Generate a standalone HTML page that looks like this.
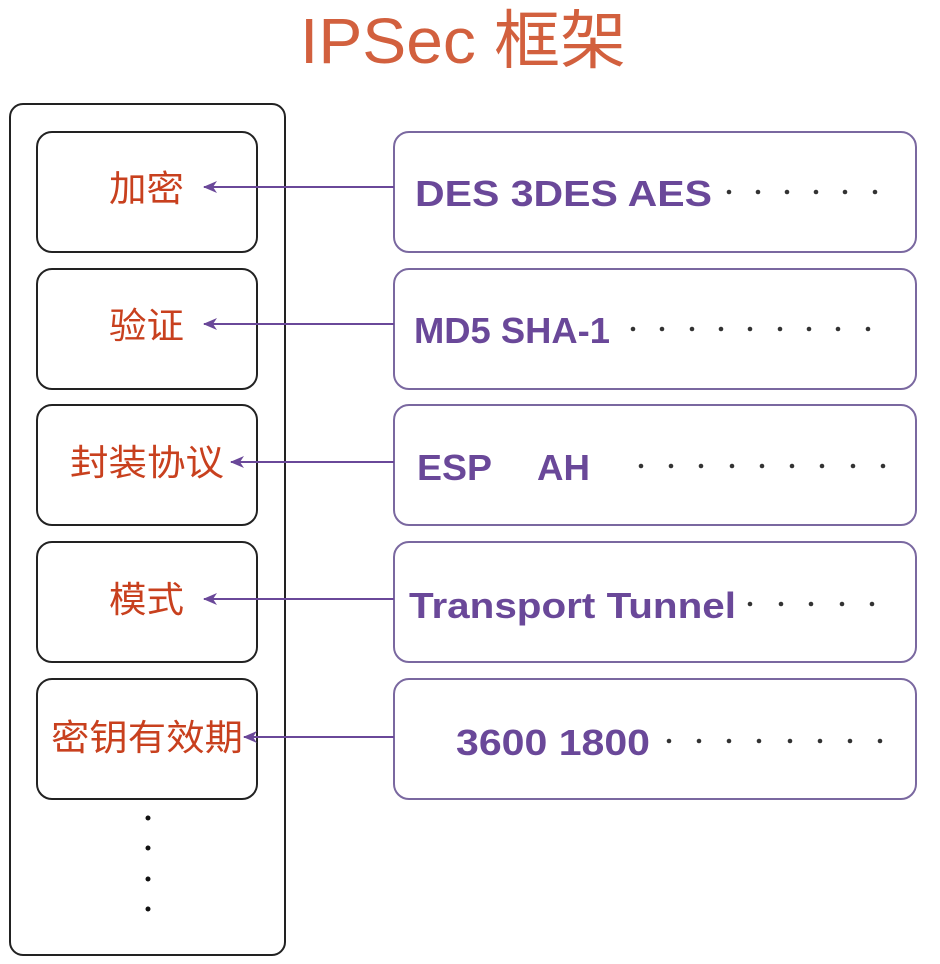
<!DOCTYPE html>
<html><head><meta charset="utf-8"><style>
html,body{margin:0;padding:0;background:#fff;}
svg{display:block;}
.cn{font-family:"Liberation Sans","Noto Sans CJK SC",sans-serif;font-size:36px;fill:#c8401e;}
.en{font-family:"Liberation Sans",sans-serif;font-weight:bold;font-size:36px;fill:#6a4899;}
</style></head><body>
<svg width="940" height="964" viewBox="0 0 940 964" xmlns="http://www.w3.org/2000/svg">
<defs><marker id="ah" markerWidth="14" markerHeight="12" refX="13" refY="6" orient="auto" markerUnits="userSpaceOnUse"><path d="M0,0 L14,6 L0,12 L4,6 Z" fill="#6a4899"/></marker></defs>
<text x="463" y="63" text-anchor="middle" font-family="Liberation Sans,Noto Sans CJK SC,sans-serif" font-size="64" fill="#d2603e" textLength="326" lengthAdjust="spacingAndGlyphs">IPSec 框架</text>
<rect x="10" y="104" width="275" height="851" rx="13" fill="none" stroke="#222" stroke-width="2"/>
<g fill="none" stroke="#222" stroke-width="2">
<rect x="37" y="132" width="220" height="120" rx="15"/>
<rect x="37" y="269" width="220" height="120" rx="15"/>
<rect x="37" y="405" width="220" height="120" rx="15"/>
<rect x="37" y="542" width="220" height="120" rx="15"/>
<rect x="37" y="679" width="220" height="120" rx="15"/>
</g>
<g fill="none" stroke="#7a68a0" stroke-width="2">
<rect x="394" y="132" width="522" height="120" rx="15"/>
<rect x="394" y="269" width="522" height="120" rx="15"/>
<rect x="394" y="405" width="522" height="120" rx="15"/>
<rect x="394" y="542" width="522" height="120" rx="15"/>
<rect x="394" y="679" width="522" height="120" rx="15"/>
</g>
<g stroke="#6a4899" stroke-width="2" marker-end="url(#ah)">
<line x1="394" y1="187" x2="204" y2="187"/>
<line x1="394" y1="324" x2="204" y2="324"/>
<line x1="394" y1="462" x2="231" y2="462"/>
<line x1="394" y1="599" x2="204" y2="599"/>
<line x1="394" y1="737" x2="244" y2="737"/>
</g>
<text class="cn" x="109" y="201" textLength="75" lengthAdjust="spacingAndGlyphs">加密</text>
<text class="cn" x="109" y="338" textLength="75" lengthAdjust="spacingAndGlyphs">验证</text>
<text class="cn" x="70" y="475" textLength="154" lengthAdjust="spacingAndGlyphs">封装协议</text>
<text class="cn" x="109" y="612" textLength="75" lengthAdjust="spacingAndGlyphs">模式</text>
<text class="cn" x="51" y="750" textLength="192" lengthAdjust="spacingAndGlyphs">密钥有效期</text>
<text class="en" x="415" y="206" textLength="297" lengthAdjust="spacingAndGlyphs">DES  3DES  AES</text>
<text class="en" x="414" y="343" textLength="196" lengthAdjust="spacingAndGlyphs">MD5 SHA-1</text>
<text class="en" x="417" y="480" textLength="75" lengthAdjust="spacingAndGlyphs">ESP</text>
<text class="en" x="537" y="480" textLength="53" lengthAdjust="spacingAndGlyphs">AH</text>
<text class="en" x="409" y="618" textLength="327" lengthAdjust="spacingAndGlyphs">Transport  Tunnel</text>
<text class="en" x="456" y="755" textLength="194" lengthAdjust="spacingAndGlyphs">3600  1800</text>
<g fill="#333">
<circle cx="729" cy="192" r="2.3"/><circle cx="758" cy="192" r="2.3"/><circle cx="787" cy="192" r="2.3"/><circle cx="816" cy="192" r="2.3"/><circle cx="845" cy="192" r="2.3"/><circle cx="875" cy="192" r="2.3"/>
<circle cx="633" cy="329" r="2.3"/><circle cx="662" cy="329" r="2.3"/><circle cx="692" cy="329" r="2.3"/><circle cx="721" cy="329" r="2.3"/><circle cx="750" cy="329" r="2.3"/><circle cx="780" cy="329" r="2.3"/><circle cx="809" cy="329" r="2.3"/><circle cx="838" cy="329" r="2.3"/><circle cx="868" cy="329" r="2.3"/>
<circle cx="641" cy="466" r="2.3"/><circle cx="671" cy="466" r="2.3"/><circle cx="701" cy="466" r="2.3"/><circle cx="732" cy="466" r="2.3"/><circle cx="762" cy="466" r="2.3"/><circle cx="792" cy="466" r="2.3"/><circle cx="822" cy="466" r="2.3"/><circle cx="853" cy="466" r="2.3"/><circle cx="883" cy="466" r="2.3"/>
<circle cx="750" cy="604" r="2.3"/><circle cx="781" cy="604" r="2.3"/><circle cx="811" cy="604" r="2.3"/><circle cx="842" cy="604" r="2.3"/><circle cx="872" cy="604" r="2.3"/>
<circle cx="669" cy="741" r="2.3"/><circle cx="699" cy="741" r="2.3"/><circle cx="729" cy="741" r="2.3"/><circle cx="759" cy="741" r="2.3"/><circle cx="790" cy="741" r="2.3"/><circle cx="820" cy="741" r="2.3"/><circle cx="850" cy="741" r="2.3"/><circle cx="880" cy="741" r="2.3"/>
<circle cx="148" cy="818" r="2.5" fill="#111"/><circle cx="148" cy="848" r="2.5" fill="#111"/><circle cx="148" cy="879" r="2.5" fill="#111"/><circle cx="148" cy="909" r="2.5" fill="#111"/>
</g>
</svg>
</body></html>
